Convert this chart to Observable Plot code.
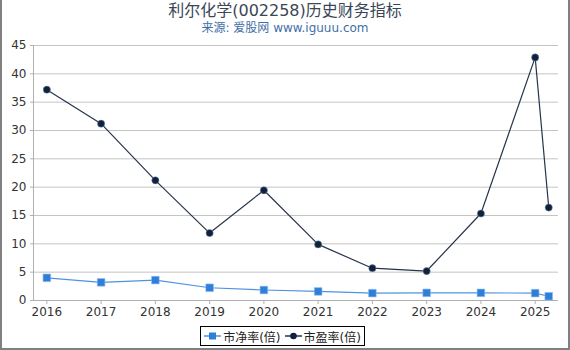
<!DOCTYPE html>
<html>
<head>
<meta charset="utf-8">
<script src="https://cdn.jsdelivr.net/npm/d3@7"></script>
<script src="https://cdn.jsdelivr.net/npm/@observablehq/plot@0.6"></script>
<style>
  html, body { margin: 0; padding: 0; background: #fff; }
  #wrap { position: relative; width: 570px; height: 350px; overflow: hidden; font-family: "DejaVu Sans", "Noto Sans CJK SC", sans-serif; }
  #title { position: absolute; top: 1px; left: 0; width: 570px; text-align: center; font-size: 16px; color: #3a4656; line-height: 20px; }
  #sub { position: absolute; top: 20px; left: 0; width: 570px; text-align: center; font-size: 12px; color: #3f6fa6; line-height: 16px; }
  #chart { position: absolute; top: 38px; left: 0; }
  #legend { position: absolute; left: 200px; top: 326px; width: 165px; height: 20px; border: 1px solid #000; box-sizing: border-box; display: flex; align-items: center; justify-content: center; font-size: 12px; color: #222; background: #fff; }
  #legend .item { display: flex; align-items: center; margin: 0 2px; }
  #legend svg { margin-right: 2px; }
  #frame { position: absolute; left: 0; top: 0; width: 570px; height: 350px; box-sizing: border-box; border-left: 2px solid #808080; border-right: 2px solid #808080; border-bottom: 2px solid #808080; pointer-events: none; }
</style>
</head>
<body>
<div id="wrap">
  <div id="title">利尔化学(002258)历史财务指标</div>
  <div id="sub">来源: 爱股网 www.iguuu.com</div>
  <div id="chart"></div>
  <div id="legend"></div>
  <div id="frame"></div>
</div>
<script>
const years = [2016, 2017, 2018, 2019, 2020, 2021, 2022, 2023, 2024, 2025, 2025.25];
const pb = [4.0, 3.2, 3.6, 2.25, 1.85, 1.6, 1.3, 1.35, 1.35, 1.3, 0.75];
const pe = [37.2, 31.2, 21.2, 11.9, 19.45, 9.9, 5.7, 5.2, 15.35, 42.9, 16.4];
const xTicks = [2016, 2017, 2018, 2019, 2020, 2021, 2022, 2023, 2024, 2025];
const yTicks = [0, 5, 10, 15, 20, 25, 30, 35, 40, 45];
const seriesNames = ["市净率(倍)", "市盈率(倍)"];
const lineColors = ["#4f93df", "#25354b"];
const dotColors = ["#2f7fd8", "#0e2240"];

const pbData = years.map((x, i) => ({x, y: pb[i]}));
const peData = years.map((x, i) => ({x, y: pe[i]}));

const chart = Plot.plot({
  width: 570,
  height: 285,
  marginLeft: 33,
  marginRight: 12,
  marginTop: 7,
  marginBottom: 23,
  style: {fontFamily: "DejaVu Sans, sans-serif", fontSize: "12px", color: "#333", background: "transparent"},
  x: {domain: [2015.754, 2025.43], ticks: xTicks, tickFormat: d => String(d), tickSize: 4, tickPadding: 4, label: null},
  y: {domain: [0, 45], ticks: yTicks, tickSize: 3, tickPadding: 4, label: null},
  marks: [
    Plot.gridY(yTicks, {stroke: "#c4c4c4", strokeOpacity: 1, strokeWidth: 1}),
    Plot.ruleX([2015.754], {stroke: "#b0b0b0"}),
    Plot.ruleY([0], {stroke: "#b0b0b0"}),
    Plot.axisY(yTicks, {tickSize: 3, stroke: "#b0b0b0", tickPadding: 4, fill: "#333", fontSize: 12}),
    Plot.axisX(xTicks, {tickSize: 4, stroke: "#b0b0b0", tickPadding: 3, fill: "#333", fontSize: 12, tickFormat: d => String(d)}),
    Plot.line(pbData, {x: "x", y: "y", stroke: lineColors[0], strokeWidth: 1.2}),
    Plot.dot(pbData, {x: "x", y: "y", symbol: "square", r: 4.3, fill: dotColors[0], stroke: "#8fbcef", strokeWidth: 0.6}),
    Plot.line(peData, {x: "x", y: "y", stroke: lineColors[1], strokeWidth: 1.2}),
    Plot.dot(peData, {x: "x", y: "y", symbol: "circle", r: 3.6, fill: dotColors[1], stroke: "#8090a0", strokeWidth: 0.5})
  ]
});
document.getElementById("chart").appendChild(chart);

const legend = document.getElementById("legend");
seriesNames.forEach((name, i) => {
  const item = document.createElement("div");
  item.className = "item";
  const sym = i === 0
    ? `<rect x="5" y="2.5" width="7" height="7" fill="${dotColors[0]}"/>`
    : `<circle cx="8.5" cy="6" r="3.3" fill="${dotColors[1]}"/>`;
  item.innerHTML = `<svg width="17" height="12"><line x1="0" y1="6" x2="17" y2="6" stroke="${lineColors[i]}" stroke-width="1.5"/>${sym}</svg><span>${name}</span>`;
  legend.appendChild(item);
});
</script>
</body>
</html>
